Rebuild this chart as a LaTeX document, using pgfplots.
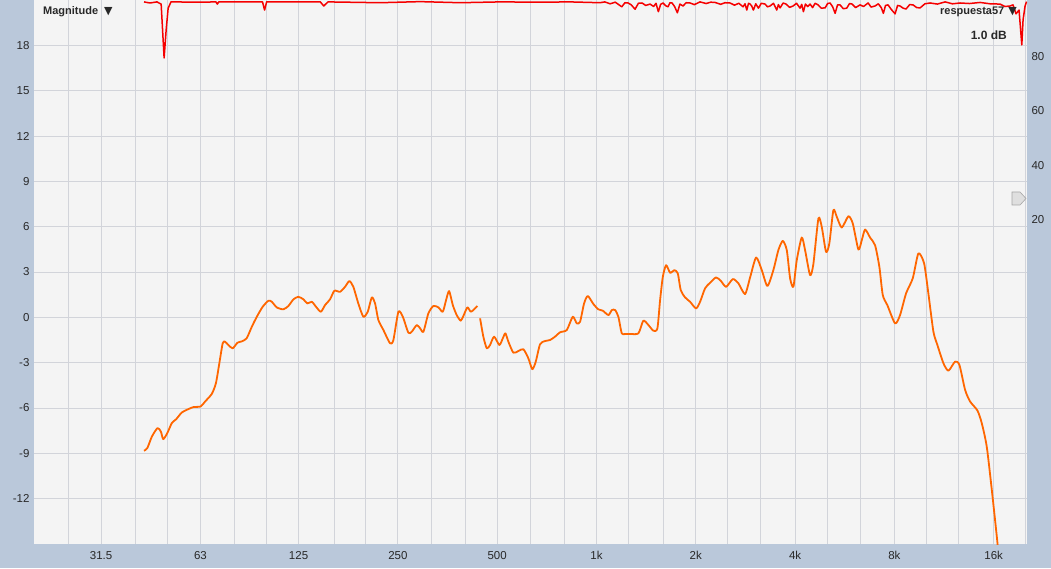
\documentclass[border=0pt]{standalone}
\usepackage{fontspec}
\setmainfont{Liberation Sans}
\newfontfamily\dejavu{DejaVu Sans}
\usepackage{pgfplots}
\pgfplotsset{compat=1.18}

\definecolor{framebg}{RGB}{186,200,218}
\definecolor{plotbg}{RGB}{244,244,244}
\definecolor{gridc}{RGB}{210,212,218}
\definecolor{zeroc}{RGB}{160,160,160}
\definecolor{txt}{RGB}{40,40,40}
\definecolor{spl}{RGB}{255,102,0}
\definecolor{coh}{RGB}{245,0,0}

\begin{document}
\begin{tikzpicture}[x=1pt,y=1pt]
\fill[framebg] (0,0) rectangle (1051,568);
\useasboundingbox (0,0) rectangle (1051,568);

% magnitude, left axis
\begin{axis}[
    at={(34pt,24pt)}, anchor=south west,
    width=993pt, height=544pt, scale only axis,
    xmode=log,
    xmin=19.72, xmax=20190,
    ymin=-15, ymax=21,
    axis background/.style={fill=plotbg},
    axis line style={draw=none},
    major tick length=0pt, minor tick length=0pt,
    xtick={31.5,63,125,250,500,1000,2000,4000,8000,16000},
    xticklabels={31.5,63,125,250,500,1k,2k,4k,8k,16k},
    minor xtick={25,40,50,80,100,160,200,315,400,630,800,1250,1600,2500,3150,5000,6300,10000,12500,20000},
    ytick={-12,-9,-6,-3,0,3,6,9,12,15,18},
    extra y ticks={0}, extra y tick labels={},
    extra y tick style={grid style={draw=zeroc, line width=0.8pt}},
    grid=both,
    major grid style={draw=gridc, line width=0.8pt},
    minor grid style={draw=gridc, line width=0.8pt},
    tick label style={font=\fontsize{11.5}{12}\selectfont, text=txt},
    xticklabel style={yshift=-4pt},
    yticklabel style={xshift=-1pt},
    /pgf/number format/assume math mode=true,
    clip=true,
]
\addplot[spl, line width=1.8pt, line join=round, smooth, tension=0.4] coordinates {
(42.5,-8.83)(43.5,-8.65)(44.9,-7.89)(46.7,-7.33)(47.8,-7.56)(48.6,-8.06)
(50.0,-7.66)(51.6,-7.00)(53.2,-6.74)(55.3,-6.30)(57.3,-6.12)(60.0,-5.94)
(63.1,-5.90)(65.1,-5.57)(68.2,-5.07)(70.2,-4.36)(71.9,-3.04)(73.6,-1.72)
(74.8,-1.61)(76.6,-1.83)(78.9,-2.05)(81.6,-1.68)(84.1,-1.59)(87.0,-1.39)
(90.2,-0.62)(93.4,0.04)(97.3,0.70)(101.3,1.10)(103.7,1.03)(107.3,0.66)
(112.4,0.53)(116.4,0.75)(120.6,1.19)(124.8,1.36)(129.3,1.19)(133.0,0.92)
(137.1,1.03)(141.2,0.70)(146.0,0.37)(150.4,0.81)(155.7,1.19)(160.5,1.76)
(167.0,1.69)(172.9,2.02)(178.2,2.40)(183.2,2.02)(189.7,0.92)(196.5,0.04)
(202.6,0.37)(208.4,1.32)(213.2,0.92)(218.2,-0.18)(226.0,-0.84)(236.7,-1.72)
(242.3,-1.50)(250.9,0.37)(258.7,0.04)(269.0,-1.02)(275.5,-0.95)(285.2,-0.51)
(292.0,-0.73)(298.8,-0.95)(309.3,0.26)(320.2,0.75)(331.7,0.66)(342.0,0.37)
(350.0,1.14)(357.5,1.74)(366.8,0.81)(377.0,0.15)(387.7,-0.22)(395.0,0.09)
(406.2,0.66)(416.7,0.37)(435.5,0.75)
};
\addplot[spl, line width=1.8pt, line join=round, smooth, tension=0.4] coordinates {
(443.8,-0.07)(454.0,-1.28)(465.0,-2.05)(475.7,-1.83)(489.3,-1.28)(507.7,-1.83)
(520.0,-1.39)(529.6,-1.06)(540.6,-1.61)(559.8,-2.34)(579.7,-2.23)(600.4,-2.11)
(621.6,-2.71)(639.0,-3.43)(654.6,-2.93)(674.5,-1.78)(698.3,-1.57)(723.4,-1.50)
(748.9,-1.28)(775.4,-0.99)(812.8,-0.84)(847.4,0.04)(871.6,-0.40)(891.9,-0.29)
(917.1,0.92)(941.1,1.41)(978.6,0.88)(1013,0.53)(1045,0.44)(1087,0.15)
(1113,0.48)(1139,0.48)(1165,0.04)(1193,-1.06)(1221,-1.10)(1264,-1.10)
(1340,-1.06)(1387,-0.22)(1437,-0.51)(1488,-0.89)(1530,-0.73)(1559,1.14)
(1589,2.68)(1626,3.45)(1672,2.95)(1722,3.12)(1764,2.91)(1801,1.80)
(1856,1.32)(1922,1.03)(2004,0.59)(2061,1.03)(2134,1.92)(2210,2.29)
(2304,2.64)(2381,2.42)(2471,2.02)(2590,2.53)(2693,2.25)(2821,1.54)
(2922,2.64)(3047,3.96)(3171,3.12)(3297,2.07)(3437,3.12)(3560,4.45)
(3671,5.06)(3775,4.45)(3864,2.58)(3953,2.02)(4047,3.78)(4190,5.28)
(4289,4.45)(4441,2.79)(4544,3.52)(4707,6.54)(4819,5.98)(4965,4.33)
(5080,4.89)(5226,7.09)(5351,6.65)(5541,5.94)(5803,6.69)(5984,6.21)
(6222,4.49)(6372,5.11)(6521,5.81)(6752,5.28)(6991,4.77)(7204,3.34)
(7377,1.47)(7616,0.81)(8039,-0.40)(8323,0.15)(8681,1.59)(9094,2.58)
(9459,4.23)(9844,3.57)(10140,1.59)(10505,-0.95)(10800,-1.83)(11265,-3.04)
(11665,-3.53)(12220,-2.93)(12597,-3.15)(13105,-4.80)(13569,-5.57)(14284,-6.17)
(14722,-7.00)(15242,-8.55)(15790,-11.41)(16350,-14.49)(16500,-15.4)
};
\end{axis}

% coherence, right axis
\begin{axis}[
    at={(34pt,24pt)}, anchor=south west,
    width=993pt, height=544pt, scale only axis,
    xmode=log,
    xmin=19.72, xmax=20190,
    ymin=-100, ymax=100,
    axis x line=none,
    axis y line*=right,
    axis line style={draw=none},
    major tick length=0pt,
    ytick={20,40,60,80},
    tick label style={font=\fontsize{11.5}{12}\selectfont, text=txt},
    yticklabel style={xshift=1pt, yshift=-2pt},
    /pgf/number format/assume math mode=true,
]
\addplot[coh, line width=1.5pt, line join=round] coordinates {
(42.5,99.3)(44.3,98.9)(46.5,99.3)(47.9,98.5)(48.9,78.7)(49.6,89)(50.3,97)
(51.3,99.3)(63,99.2)(70.2,99.3)(70.9,98.5)(71.6,99.3)(97.2,99.3)(98.6,96.3)
(100,99.3)(145.5,99.3)(149,97.8)(153.5,99.3)(220.8,99.0)(292,99.4)(387,99.0)
(510,99.3)(674.5,99.2)(831.6,99.3)
(1025,99.0)(1060,99.3)(1100,98.6)(1140,99.2)(1193,97.5)(1220,99.0)(1247,98.9)
(1275,98.2)(1309,96.6)(1340,98.8)(1375,98.9)(1410,98.0)(1454,98.5)(1490,97.6)
(1515,98.8)(1540,95.7)(1565,98.4)(1592,98.9)(1620,97.9)(1648,97.5)(1670,99.0)
(1695,98.9)(1725,97.6)(1759,95.3)(1790,98.5)(1830,97.8)(1870,99.0)(1922,98.9)
(1980,98.3)(2061,99.3)(2150,98.7)(2220,99.2)(2288,99.1)(2380,98.4)(2450,99.0)
(2540,98.9)(2620,98.1)(2700,98.8)(2782,97.5)(2820,98.6)(2856,96.3)(2890,98.8)
(2922,98.5)(2955,97.8)(2990,96.3)(3040,98.6)(3096,97.0)(3160,98.8)(3244,98.5)
(3300,97.5)(3360,97.8)(3440,98.8)(3520,96.3)(3560,98.3)(3602,97.1)(3680,98.9)
(3756,98.5)(3850,97.3)(3945,97.8)(4040,98.8)(4142,97.0)(4190,98.4)(4239,95.7)
(4300,98.5)(4370,97.6)(4441,98.5)(4520,97.2)(4600,98.8)(4697,98.2)(4800,97.0)
(4932,97.1)(5020,98.7)(5106,98.9)(5200,97.5)(5289,95.1)(5380,98.2)(5476,98.2)
(5600,96.8)(5738,97.0)(5850,98.7)(5955,98.5)(6100,97.2)(6297,98.2)(6450,97.6)
(6658,98.9)(6800,97.4)(6991,97.8)(7150,98.6)(7300,97.2)(7409,95.1)(7520,98.0)
(7656,98.2)(7820,96.6)(8039,94.9)(8180,98.0)(8323,97.8)(8500,97.0)(8681,96.7)
(8900,98.3)(9115,98.2)(9350,97.2)(9572,97.1)(9900,98.6)(10266,98.9)(10800,98.5)
(11400,99.3)(12000,98.6)(12656,98.9)(13500,98.7)(14550,99.1)(15600,98.6)
(16725,98.5)(17300,97.6)(17935,97.8)(18310,98.2)(18700,94.9)(19100,96.3)
(19470,83.5)(19645,92.7)(19920,97.8)(20130,99.4)
};
\end{axis}

% legend tags and marker
\node[anchor=west, inner sep=0pt, text=txt, font=\bfseries\fontsize{11}{12}\selectfont] at (43,556) {Magnitude\hspace{6pt}{\dejavu\mdseries ▼}};
\node[anchor=east, inner sep=0pt, text=txt, font=\bfseries\fontsize{11}{12}\selectfont] at (1017,556) {respuesta57\hspace{4pt}{\dejavu\mdseries ▼}};
\node[anchor=east, inner sep=0pt, text=txt, font=\bfseries\fontsize{12}{13}\selectfont] at (1007,533) {1.0 dB};
\filldraw[fill=gray!25, draw=gray!70, line width=0.6pt]
  (1012,376) -- (1020,376) -- (1026,369.5) -- (1020,363) -- (1012,363) -- cycle;
\end{tikzpicture}
\end{document}
